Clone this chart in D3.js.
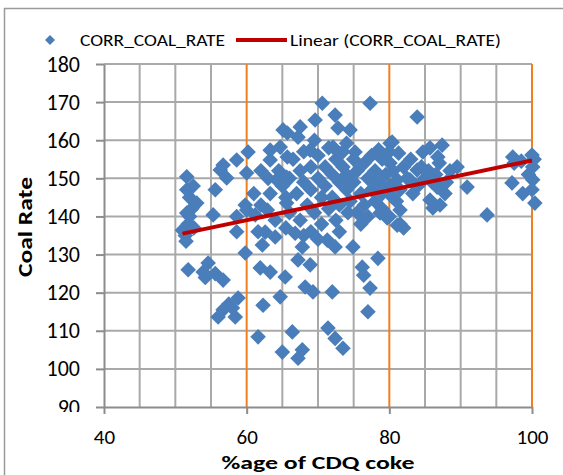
<!DOCTYPE html>
<html>
<head>
<meta charset="utf-8">
<script src="https://cdn.jsdelivr.net/npm/d3@7"></script>
<style>
  html, body { margin: 0; padding: 0; background: #fff; }
  svg { display: block; }
  text { font-family: Carlito, Calibri, Lato, "Open Sans", sans-serif; fill: #000; }
</style>
</head>
<body>
<svg id="chart" width="563" height="475"></svg>
<script>
// ---- data ----
const coke = [
  51.6,51.6,52,53,51.6,52,51,51.4,51.8,52.5,51.5,52.3,52.6,
  51.8,54.6,53.9,55.6,54.2,56.7,
  58.8,58,56.7,56,58.4,57.5,
  59.8,61.9,62.3,61.6,63.3,64.7,65,65.4,
  67.8,67.2,68.9,68.2,69.3,72,71.3,72.4,74.9,78.4,76.2,76.4,77.3,77,66.4,71.4,72.4,73.5,67.8,67.2,
  66.8,64,61.6,58.6,60,62.6,62.2,61.2,
  65.1,63.3,60.2,58.6,56.7,56.3,60,55.6,55.3,59.8,58.6,63.3,64.2,63.3,62.9,65.6,57.2,65.6,
  70.6,77.3,69.6,72.4,72.8,74.5,67.5,65.7,74,75.2,72.1,80.1,68.9,67.2,65.7,64.7,78.5,
  83.9,80.4,81.3,84.7,85.7,87.4,86.8,89.5,90.9,87.8,87.1,83.9,82.9,81.1,80.1,86.7,85.7,83.3,93.7,
  97.3,100,100.1,97.2,98.7,100.1,100,100.4,99.5,100.3,98.5,97.5,
  80.4,81.5,86.1,81.1,79.7,78.7,74.2,
  64.5,65,65.5,66,66.5,66,67,67.5,67.5,68,68,68.5,69,69,69.5,69.5,70,70,70.5,70.5,71,71,71.5,71.5,
  72,72,72.5,72.5,73,73,73.5,73.5,74,74,74.5,75,75,75.5,75.5,76,76.5,76.5,77,77.5,77.5,78,78,78.5,
  79,79,79.5,80,80,80.5,81,81.5,82,82.5,83,84,84.5,85,85.5,86,86.5,87,88,88.5,81.5,82,80,79,
  68,69,70,73,76,77,63,62,61,62,64,65.5
];
const coal = [
  150.4,147,145,143.5,140.9,140,136.4,135,138,148,133.5,142,137,
  126,127.8,125.4,125,124,123.3,
  118.6,116,115.5,113.6,113.6,117,
  130.4,126.5,116.7,108.4,125.4,118.9,104.4,124.1,
  132,128.6,127.3,121.5,120.2,120.2,133.8,132,132,129,126.7,124.6,121.2,115,109.7,110.7,108,105.4,105,102.8,
  135.6,134.6,136,136,141.7,135.9,132.5,140.4,
  162.7,157.4,156.9,154.8,153.5,152.2,151.4,147,140.4,143,140,154.8,149.6,146,141.7,150.3,150.1,143.5,
  169.7,169.7,165.3,166.6,163.2,162.7,163.5,161.9,159.2,156.9,158.2,159.2,157.4,160.8,155.6,158.2,157.5,
  166.1,159.5,156.6,156.9,158,158.7,155.6,153,147.7,146,143,152.2,149.6,149.6,154,147.7,144.3,146,140.4,
  155.6,156.1,153,148.8,146,149.6,147,143.5,151,155,154.5,154,
  145.1,141.7,142.2,137.7,139.6,140.9,141,
  152,148,145,150,155,141,146,152,139,157,149,143,153,147,160,141,156,150,145,138,153,148,142,158,
  151,145,155,139,149,143,153,157,147,151,144,155,149,141,152,146,154,143,150,147,156,152,144,149,
  155,146,151,157,148,152,144,147,153,150,155,148,153,150,152,149,151,154,149,152,138,137,140,142,
  135,136,134,136,138,140,150,152,146,143,139,137
];
const trendX = [51, 100];           // linear trend line end points (x)
const trendY = [135.5, 154.7];      // linear trend line end points (y)
const yTicks = [90, 100, 110, 120, 130, 140, 150, 160, 170, 180];
const xTicks = [40, 60, 80, 100];
const xMinorGrid = [45, 50, 55, 65, 70, 75, 85, 90, 95];
const xMajorGrid = [60, 80, 100];
const seriesName = "CORR_COAL_RATE";
const trendName = "Linear (CORR_COAL_RATE)";

// ---- drawing ----
const svg = d3.select("#chart");
const L = 104, R = 532, T = 64, B = 407;
const x = d3.scaleLinear().domain([40, 100]).range([L, R]);
const y = d3.scaleLinear().domain([90, 180]).range([B, T]);

const blue = "#4a7ebb", red = "#c00000", orange = "#f07f1e", grid = "#a9a9a9", axisCol = "#8c8c8c";

// outer frame
svg.append("rect").attr("x", 4.5).attr("y", 8.5).attr("width", 600).attr("height", 500)
  .attr("fill", "#fff").attr("stroke", "#9a9a9a").attr("stroke-width", 1.5);

// horizontal grid
svg.append("g").selectAll("line").data(yTicks.filter(d => d > 90)).join("line")
  .attr("x1", L).attr("x2", R).attr("y1", d => y(d)).attr("y2", d => y(d))
  .attr("stroke", grid).attr("stroke-width", 2);
// vertical minor grid
svg.append("g").selectAll("line").data(xMinorGrid).join("line")
  .attr("x1", d => x(d)).attr("x2", d => x(d)).attr("y1", T).attr("y2", B)
  .attr("stroke", grid).attr("stroke-width", 2);
// vertical major grid (orange)
svg.append("g").selectAll("line").data(xMajorGrid).join("line")
  .attr("x1", d => x(d)).attr("x2", d => x(d)).attr("y1", T).attr("y2", B)
  .attr("stroke", orange).attr("stroke-width", 2);

// clip for the y axis labels (bottom label is cut in the reference)
svg.append("defs").append("clipPath").attr("id", "yclip")
  .append("rect").attr("x", -200).attr("y", 0).attr("width", 400).attr("height", 412);

// y axis
const yAxis = svg.append("g").attr("transform", `translate(${L},0)`).attr("clip-path", "url(#yclip)")
  .call(d3.axisLeft(y).tickValues(yTicks).tickSize(8).tickPadding(16).tickSizeOuter(0));
yAxis.select(".domain").attr("stroke", axisCol).attr("stroke-width", 2);
yAxis.selectAll(".tick line").attr("stroke", axisCol).attr("stroke-width", 2);
yAxis.selectAll(".tick text").attr("font-size", 22).attr("fill", "#000")
  .style("font-family", "Carlito, Calibri, Lato, sans-serif");

// x axis
const xAxis = svg.append("g").attr("transform", `translate(0,${B})`)
  .call(d3.axisBottom(x).tickValues(xTicks).tickSize(7).tickPadding(15).tickSizeOuter(0));
xAxis.select(".domain").attr("stroke", axisCol).attr("stroke-width", 2);
xAxis.selectAll(".tick line").attr("stroke", axisCol).attr("stroke-width", 2);
xAxis.selectAll(".tick text").attr("font-size", 21).attr("fill", "#000")
  .style("font-family", "Carlito, Calibri, Lato, sans-serif");

// points
const pts = coke.map((c, i) => [c, coal[i]]);
const sym = d3.symbol().type(d3.symbolSquare).size(122);
svg.append("g").selectAll("path").data(pts).join("path")
  .attr("d", sym)
  .attr("transform", d => `translate(${x(d[0])},${y(d[1])}) rotate(45)`)
  .attr("fill", blue);

// trend line
svg.append("line")
  .attr("x1", x(trendX[0])).attr("y1", y(trendY[0]))
  .attr("x2", x(trendX[1])).attr("y2", y(trendY[1]))
  .attr("stroke", red).attr("stroke-width", 4);

// axis titles
svg.append("text").attr("x", 318).attr("y", 469).attr("text-anchor", "middle")
  .attr("font-size", 19).attr("font-weight", "bold")
  .attr("textLength", 193).attr("lengthAdjust", "spacingAndGlyphs")
  .text("%age of CDQ coke");
svg.append("text").attr("transform", "translate(32,227) rotate(-90)").attr("text-anchor", "middle")
  .attr("font-size", 21).attr("font-weight", "bold")
  .attr("textLength", 100).attr("lengthAdjust", "spacingAndGlyphs")
  .text("Coal Rate");

// legend
const lg = svg.append("g");
lg.append("path").attr("d", d3.symbol().type(d3.symbolSquare).size(50))
  .attr("transform", "translate(50,40) rotate(45)").attr("fill", blue);
lg.append("text").attr("x", 80).attr("y", 46).attr("font-size", 17)
  .attr("textLength", 145).attr("lengthAdjust", "spacingAndGlyphs").text(seriesName);
lg.append("line").attr("x1", 236).attr("x2", 287).attr("y1", 40).attr("y2", 40)
  .attr("stroke", red).attr("stroke-width", 4);
lg.append("text").attr("x", 290).attr("y", 46).attr("font-size", 17)
  .attr("textLength", 211).attr("lengthAdjust", "spacingAndGlyphs").text(trendName);
</script>
</body>
</html>
